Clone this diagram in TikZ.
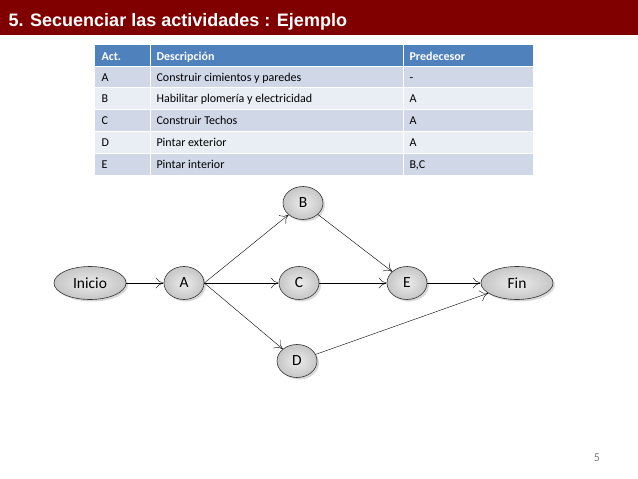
\documentclass[tikz,border=0pt]{standalone}
\usepackage{fontspec}
\setmainfont{Carlito}
\newfontfamily\titlefont{Liberation Sans}
\usetikzlibrary{shapes.geometric,shadows,arrows.meta}
\definecolor{barred}{HTML}{800000}
\definecolor{headblue}{HTML}{4F81BD}
\definecolor{rowdark}{HTML}{D0D8E8}
\definecolor{rowlight}{HTML}{E9EDF4}
\newcommand{\rowh}{21.8}

\begin{document}
\begin{tikzpicture}[x=1pt,y=-1pt,
  actnode/.style={ellipse,draw=black!80,semithick,minimum width=40,minimum height=33,
    inner color=gray!15,outer color=gray!45,
    drop shadow={shadow xshift=2pt,shadow yshift=-2pt,fill=gray!60},font=\fontsize{15.5}{18}\selectfont},
  endnode/.style={actnode,minimum width=72},
  link/.style={draw,-{To[length=8pt,width=11pt]}},
  cell/.style={anchor=base west,font=\fontsize{12}{14}\selectfont}]
\useasboundingbox (0,0) rectangle (638,479);
% title bar
\fill[barred] (0,0) rectangle (638,35);
\node[anchor=base west,text=white,font=\titlefont\bfseries\fontsize{18}{20}\selectfont] (title) at (5,27) {5. Secuenciar las actividades : Ejemplo};
% table
\fill[headblue] (95,45) rectangle (533,66);
\foreach \i/\c in {0/rowdark,1/rowlight,2/rowdark,3/rowlight,4/rowdark}
  \fill[\c] (95,66+\i*\rowh) rectangle (533,66+\i*\rowh+\rowh);
\foreach \i in {0,...,4}
  \draw[white,line width=1pt] (95,66+\i*\rowh) -- (533,66+\i*\rowh);
\draw[white,line width=1pt] (150,45) -- (150,175) (403,45) -- (403,175);
\node[cell,text=white,font=\bfseries\fontsize{12}{14}\selectfont] (h1) at (98,60) {Act.};
\node[cell,text=white,font=\bfseries\fontsize{12}{14}\selectfont] (h2) at (153,60) {Descripción};
\node[cell,text=white,font=\bfseries\fontsize{12}{14}\selectfont] (h3) at (406,60) {Predecesor};
\foreach \i/\a/\d/\p in {0/A/Construir cimientos y paredes/-,1/B/Habilitar plomería y electricidad/A,
    2/C/Construir Techos/A,3/D/Pintar exterior/A,4/E/Pintar interior/{B,C}}{
  \node[cell] (a\i) at (98,81+\i*\rowh) {\a};
  \node[cell] (d\i) at (153,81+\i*\rowh) {\d};
  \node[cell] (p\i) at (406,81+\i*\rowh) {\p};
}
% network
\node[endnode] (inicio) at (90,283) {Inicio};
\node[actnode] (A) at (184,283) {A};
\node[actnode] (B) at (303,203) {B};
\node[actnode] (C) at (299,283) {C};
\node[actnode] (D) at (297,361) {D};
\node[actnode] (E) at (407,283) {E};
\node[endnode] (fin) at (517,283) {Fin};
\draw[link] (inicio) -- (A);
\draw[link] (A.east) -- (B);
\draw[link] (A.east) -- (C);
\draw[link] (A.east) -- (D);
\draw[link] (B) -- (E);
\draw[link] (C) -- (E);
\draw[link] (E) -- (fin);
\draw[link] (D) -- (fin);
\node[text=gray,font=\fontsize{12}{14}\selectfont] (page) at (597,458) {5};
\end{tikzpicture}
\end{document}
